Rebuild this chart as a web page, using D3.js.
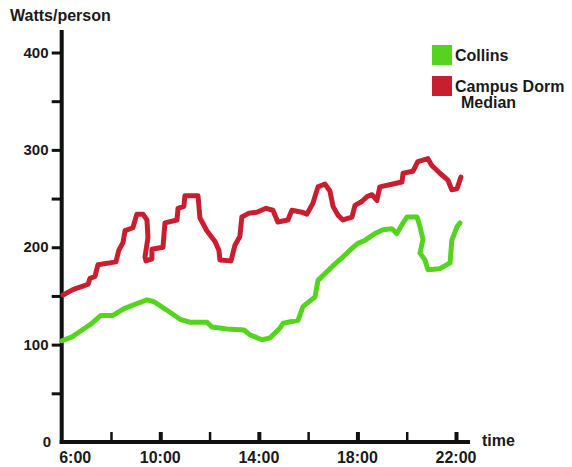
<!DOCTYPE html>
<html>
<head>
<meta charset="utf-8">
<script src="https://cdn.jsdelivr.net/npm/d3@7"></script>
<style>
  html, body { margin: 0; padding: 0; background: #fff; }
  svg text { font-family: "Liberation Sans", Arial, sans-serif; font-weight: bold; fill: #1a1a1a; }
</style>
</head>
<body>
<svg id="chart" width="572" height="467"></svg>
<script>
// ---- data ----
const collinsTime  = [6.01,6.42,6.83,7.23,7.59,8.08,8.53,8.93,9.46,9.75,10.23,10.80,11.21,11.90,12.10,12.71,13.40,13.64,14.13,14.46,14.86,14.98,15.59,15.79,16.28,16.40,16.97,17.37,17.78,18.02,18.30,18.71,19.04,19.40,19.60,19.85,20.01,20.42,20.54,20.66,20.54,20.74,20.86,21.35,21.76,21.83,22.04,22.16];
const collinsWatts = [104,108,115,122,130,130,137,141,146,144,136,126,123,123,118,116,115,110,105,107,117,122,125,139,149,166,180,189,199,204,207,214,218,219,214,225,231,231,221,208,194,187,177,178,184,207,221,225];

const dormTime  = [6.05,6.42,6.62,6.86,7.07,7.15,7.35,7.47,8.20,8.32,8.49,8.57,8.89,9.05,9.30,9.46,9.50,9.38,9.42,9.66,9.66,10.11,10.19,10.68,10.72,10.96,11.00,11.53,11.61,11.89,12.22,12.38,12.42,12.87,13.03,13.23,13.31,13.60,13.92,14.29,14.57,14.77,15.18,15.34,15.75,15.95,16.19,16.40,16.68,16.88,17.01,17.21,17.41,17.78,17.90,18.18,18.39,18.59,18.79,18.91,19.44,19.81,19.85,20.25,20.45,20.86,21.02,21.35,21.67,21.83,22.04,22.20];
const dormWatts = [151,156,158,160,162,168,170,182,185,197,205,217,220,234,234,228,210,190,186,188,198,200,225,228,240,242,253,253,230,217,206,197,187,186,202,211,231,235,236,240,238,226,228,238,236,234,245,262,265,258,242,233,228,231,243,247,252,254,248,262,265,267,276,278,288,291,284,276,269,259,260,272];

const xTickValues = [8,10,12,14,16,18,20,22];
const xLabelValues = [6,10,14,18,22];
const xLabels = ["6:00","10:00","14:00","18:00","22:00"];
const yTickValues = [50,100,150,200,250,300,350,400];
const yLabelValues = [0,100,200,300,400];

const seriesNames = ["Collins","Campus Dorm Median"];
const seriesColors = ["#55d41f","#c81f30"];

// ---- chart ----
const svg = d3.select("#chart");
const x = d3.scaleLinear().domain([6, 22]).range([61.7, 456]);
const y = d3.scaleLinear().domain([0, 400]).range([442, 52.5]);

// y axis ticks (left)
const yAxis = d3.axisLeft(y).tickValues(yTickValues).tickSize(10).tickFormat("");
const gy = svg.append("g").attr("transform", `translate(${x(6)},0)`).call(yAxis);
gy.select(".domain").remove();
gy.selectAll(".tick line").attr("stroke", "#111").attr("stroke-width", 3);

// y labels
const gyl = svg.append("g");
gyl.selectAll("text").data(yLabelValues).join("text")
  .attr("x", d => d === 0 ? 51 : 48.5)
  .attr("y", d => y(d) + 5)
  .attr("text-anchor", "end")
  .attr("font-size", 15)
  .text(d => d);

// y axis line
svg.append("line")
  .attr("x1", x(6)).attr("x2", x(6))
  .attr("y1", y(423)).attr("y2", y(0) + 2)
  .attr("stroke", "#111").attr("stroke-width", 4);

// x axis ticks (upward)
const xAxis = d3.axisBottom(x).tickValues(xTickValues).tickSizeInner(-10).tickSizeOuter(0).tickFormat("");
const gx = svg.append("g").attr("transform", `translate(0,${y(0)})`).call(xAxis);
gx.select(".domain").remove();
gx.selectAll(".tick line")
  .attr("stroke", "#111")
  .attr("stroke-width", d => (d % 4 === 2) ? 4 : 2.5);

// x axis line
svg.append("line")
  .attr("x1", x(6) - 2).attr("x2", 470)
  .attr("y1", y(0)).attr("y2", y(0))
  .attr("stroke", "#111").attr("stroke-width", 4);

// x labels
svg.append("g").selectAll("text").data(xLabelValues).join("text")
  .attr("x", (d, i) => i === 0 ? x(d) + 13.5 : x(d))
  .attr("y", 463)
  .attr("text-anchor", "middle")
  .attr("font-size", 16)
  .text((d, i) => xLabels[i]);

// axis titles
svg.append("text").attr("x", 10).attr("y", 20.5).attr("font-size", 16).text("Watts/person");
svg.append("text").attr("x", 482).attr("y", 445.5).attr("font-size", 16).text("time");

// lines
const line = d3.line().x(d => x(d[0])).y(d => y(d[1])).curve(d3.curveLinear);
const collins = collinsTime.map((t, i) => [t, collinsWatts[i]]);
const dorm = dormTime.map((t, i) => [t, dormWatts[i]]);

[collins, dorm].forEach((data, i) => {
  svg.append("path")
    .datum(data)
    .attr("d", line)
    .attr("fill", "none")
    .attr("stroke", seriesColors[i])
    .attr("stroke-width", 5)
    .attr("stroke-linejoin", "round")
    .attr("stroke-linecap", "round");
});

// legend
const legend = svg.append("g");
legend.append("rect").attr("x", 432).attr("y", 45).attr("width", 20).attr("height", 20).attr("fill", seriesColors[0]);
legend.append("rect").attr("x", 432).attr("y", 76).attr("width", 20).attr("height", 20).attr("fill", seriesColors[1]);
legend.append("text").attr("x", 455).attr("y", 61).attr("font-size", 16).text(seriesNames[0]);
legend.append("text").attr("x", 455).attr("y", 92).attr("font-size", 16).text("Campus Dorm");
legend.append("text").attr("x", 461).attr("y", 107.5).attr("font-size", 16).text("Median");
</script>
</body>
</html>
